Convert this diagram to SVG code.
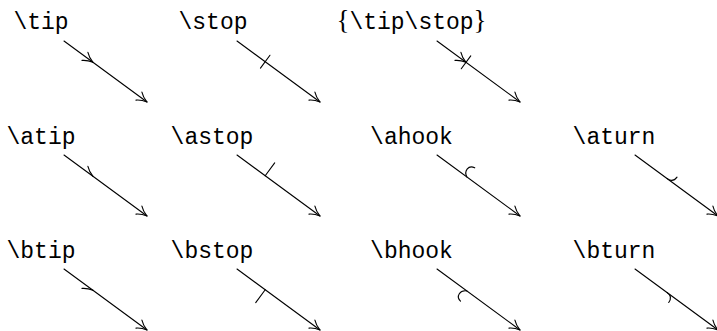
<svg xmlns="http://www.w3.org/2000/svg" xmlns:xlink="http://www.w3.org/1999/xlink" width="717" height="331" viewBox="0 0 717 331">
<style>
text{font-family:"Liberation Mono","DejaVu Sans Mono",monospace;font-size:23px;fill:#000;text-anchor:middle}
.rm{font-family:"Liberation Serif","DejaVu Serif",serif;font-size:27px}
path,line{fill:none;stroke:#000;stroke-width:1.1;stroke-linecap:round}
</style>
<defs>
<path id="ah" d="M0,0 Q-6,-1.5 -10,-5 M0,0 Q-6,1.5 -10,5"/>
<path id="ahA" d="M0,0 Q-6,-1.5 -10,-5"/>
<path id="ahB" d="M0,0 Q-6,1.5 -10,5"/>
<line id="ln" x1="0" y1="0" x2="103" y2="0"/>
</defs>
<rect width="717" height="331" fill="#fff"/>
<g id="labels">
<g id="n-tip"><text x="41" y="29">\tip</text></g>
<g id="n-stop"><text x="213" y="29">\stop</text></g>
<g id="n-tipstop"><text x="411.5" y="29"><tspan class="rm">{</tspan>\tip\stop<tspan class="rm">}</tspan></text></g>
<g id="n-atip"><text x="41" y="143.5">\atip</text></g>
<g id="n-astop"><text x="212" y="143.5">\astop</text></g>
<g id="n-ahook"><text x="411.5" y="143.5">\ahook</text></g>
<g id="n-aturn"><text x="614" y="143.5">\aturn</text></g>
<g id="n-btip"><text x="41" y="258">\btip</text></g>
<g id="n-bstop"><text x="212" y="258">\bstop</text></g>
<g id="n-bhook"><text x="411.5" y="258">\bhook</text></g>
<g id="n-bturn"><text x="614" y="258">\bturn</text></g>
</g>
<g id="connectors">
<g transform="translate(64,41) rotate(36.3)">
<use xlink:href="#ln"/><use xlink:href="#ah" x="103"/><use xlink:href="#ah" x="36"/>
</g>
<g transform="translate(237,41) rotate(36.3)">
<use xlink:href="#ln"/><use xlink:href="#ah" x="103"/><line x1="35" y1="-8" x2="35" y2="8"/>
</g>
<g transform="translate(437,41) rotate(36.3)">
<use xlink:href="#ln"/><use xlink:href="#ah" x="103"/><use xlink:href="#ah" x="36"/><line x1="36" y1="-8" x2="36" y2="8"/>
</g>
<g transform="translate(64,155) rotate(36.3)">
<use xlink:href="#ln"/><use xlink:href="#ah" x="103"/><use xlink:href="#ahA" x="36"/>
</g>
<g transform="translate(237,155) rotate(36.3)">
<use xlink:href="#ln"/><use xlink:href="#ah" x="103"/><line x1="35" y1="0" x2="35" y2="-16"/>
</g>
<g transform="translate(437,155) rotate(36.3)">
<use xlink:href="#ln"/><use xlink:href="#ah" x="103"/><path d="M37,0 C31,-3 31,-11 38,-12"/>
</g>
<g transform="translate(635,155) rotate(36.3)">
<use xlink:href="#ln"/><use xlink:href="#ah" x="103"/><path d="M40,0 Q47,0 47,-7"/>
</g>
<g transform="translate(64,269) rotate(36.3)">
<use xlink:href="#ln"/><use xlink:href="#ah" x="103"/><use xlink:href="#ahB" x="36"/>
</g>
<g transform="translate(237,269) rotate(36.3)">
<use xlink:href="#ln"/><use xlink:href="#ah" x="103"/><line x1="35" y1="0" x2="35" y2="16"/>
</g>
<g transform="translate(437,269) rotate(36.3)">
<use xlink:href="#ln"/><use xlink:href="#ah" x="103"/><path d="M37,0 C31,3 31,11 38,12"/>
</g>
<g transform="translate(635,269) rotate(36.3)">
<use xlink:href="#ln"/><use xlink:href="#ah" x="103"/><path d="M40,0 Q47,0 47,7"/>
</g>
</g>
</svg>
